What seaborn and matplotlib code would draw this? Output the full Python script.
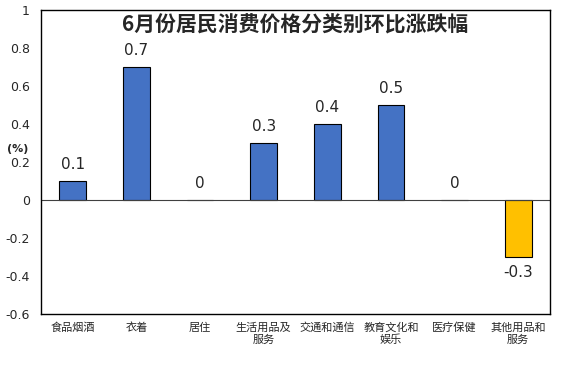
import matplotlib
matplotlib.use("Agg")
import matplotlib.pyplot as plt
import seaborn as sns
import pandas as pd

categories = ["食品烟酒", "衣着", "居住", "生活用品及\n服务", "交通和通信",
              "教育文化和\n娱乐", "医疗保健", "其他用品和\n服务"]
values = [0.1, 0.7, 0, 0.3, 0.4, 0.5, 0, -0.3]
y_ticks = [1, 0.8, 0.6, 0.4, 0.2, 0, -0.2, -0.4, -0.6]
title = "6月份居民消费价格分类别环比涨跌幅"

sns.set_style("white")
plt.rcParams['font.family'] = ['Noto Sans CJK SC', 'DejaVu Sans']

df = pd.DataFrame({"cat": categories, "val": values})
colors = ["#FFC000" if v < 0 else "#4472C4" for v in values]

fig = plt.figure(figsize=(5.74, 3.74), dpi=100)
ax = fig.add_axes([41 / 574, 1 - 314 / 374, 509 / 574, 304 / 374])
sns.barplot(data=df, x="cat", y="val", hue="cat", palette=colors, legend=False,
            saturation=1, width=0.42, edgecolor="black", linewidth=0.8, ax=ax)

ax.set_ylim(-0.6, 1)
ax.set_yticks(y_ticks)
ax.set_yticklabels([f"{t:g}" for t in y_ticks], fontsize=9, family='DejaVu Sans')
ax.set_xlim(-0.5, len(categories) - 0.5)
ax.tick_params(axis='x', labelsize=8, length=0, pad=6)
ax.tick_params(axis='y', length=0, pad=8)
ax.set_xlabel("")
ax.set_ylabel("")
ax.axhline(0, color="#404040", linewidth=0.8)
for s in ax.spines.values():
    s.set_color("black")
    s.set_linewidth(1)

for i, v in enumerate(values):
    if v < 0:
        ax.text(i, v - 0.04, f"{v:g}", ha="center", va="top", fontsize=11, family='DejaVu Sans')
    else:
        ax.text(i, v + 0.045, f"{v:g}", ha="center", va="bottom", fontsize=11, family='DejaVu Sans')

ax.text(0.5, 0.95, title, transform=ax.transAxes, ha="center", va="center",
        fontsize=15, fontweight="bold")
fig.text(18 / 574, 1 - 149 / 374, "(%)", ha="center", va="center",
         fontsize=8, fontweight="bold", family='DejaVu Sans')

fig.savefig("out.png", dpi=100)
